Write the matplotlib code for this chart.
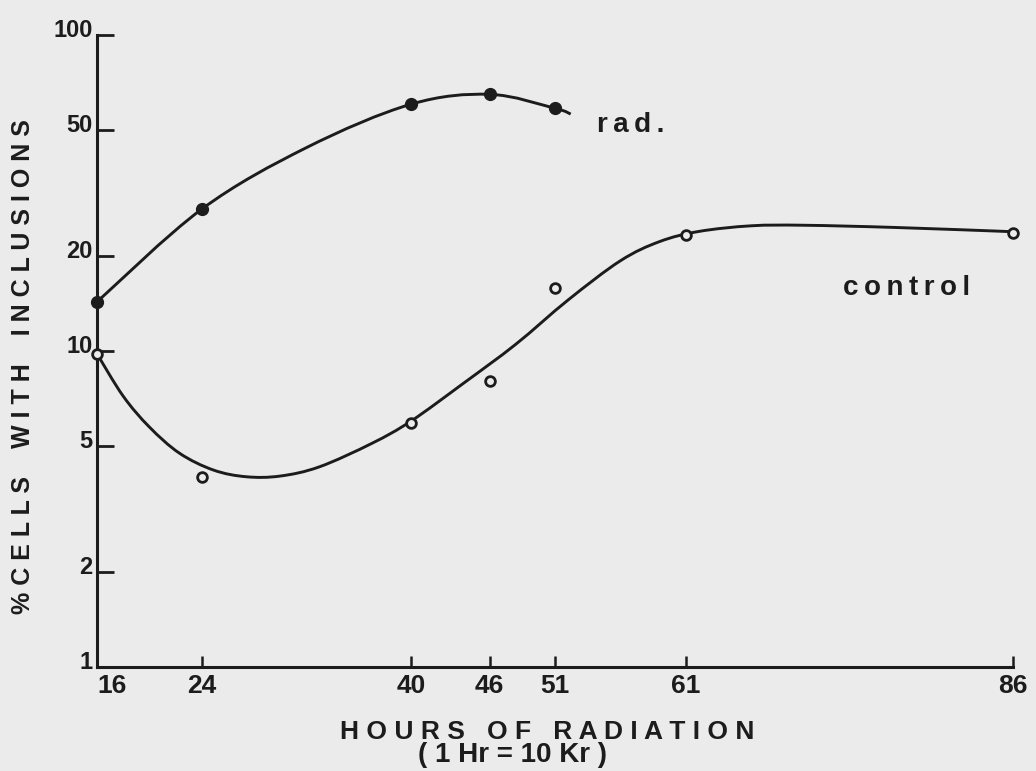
import numpy as np
import matplotlib.pyplot as plt
from matplotlib.path import Path
from matplotlib.patches import PathPatch
from matplotlib.ticker import NullLocator
from matplotlib.transforms import ScaledTranslation

# measured points (hours of radiation, % cells with inclusions)
hours_rad = [16, 24, 40, 46, 51]
pct_rad = [14.3, 28.1, 60.4, 64.9, 58.6]

hours_ctrl = [16, 24, 40, 46, 51, 61, 86]
pct_ctrl = [9.8, 4.0, 5.9, 8.05, 15.8, 23.3, 23.7]

# hand drawn curves
rad_curve_h = [16, 24, 32, 40, 46, 51, 52.2]
rad_curve_v = [14.3, 28.1, 44.0, 60.4, 64.9, 58.6, 56.2]

ctrl_curve_h = [16, 18, 20, 22.3, 24.9, 27.4, 30, 33, 37, 40, 44, 48, 52, 56, 59, 62,
                66, 70, 77, 86]
ctrl_curve_v = [9.8, 7.2, 5.75, 4.75, 4.2, 4.0, 4.02, 4.3, 5.1, 6.0, 7.9, 10.5, 14.5,
                19.3, 22.2, 23.9, 24.9, 25.0, 24.6, 23.85]

x_ticks = [16, 24, 40, 46, 51, 61, 86]
y_ticks = [1, 2, 5, 10, 20, 50, 100]

bg = '#ebebeb'
ink = '#1c1c1c'
plt.rcParams['font.family'] = ['Liberation Sans', 'DejaVu Sans']
plt.rcParams['font.weight'] = 'bold'
plt.rcParams['text.color'] = ink


def smooth_path(h, v):
    # Bezier segments through the read points (log space for y, like the axis)
    x = np.asarray(h, float)
    y = np.log10(np.asarray(v, float))
    verts = [(x[0], y[0])]
    codes = [Path.MOVETO]
    n = len(x)
    for i in range(n - 1):
        p0 = np.array([x[max(i - 1, 0)], y[max(i - 1, 0)]])
        p1 = np.array([x[i], y[i]])
        p2 = np.array([x[i + 1], y[i + 1]])
        p3 = np.array([x[min(i + 2, n - 1)], y[min(i + 2, n - 1)]])
        c1 = p1 + (p2 - p0) / 6
        c2 = p2 - (p3 - p1) / 6
        verts += [tuple(c1), tuple(c2), tuple(p2)]
        codes += [Path.CURVE4] * 3
    verts = [(a, 10 ** b) for a, b in verts]
    return Path(verts, codes)


fig = plt.figure(figsize=(10.36, 7.71), dpi=100, facecolor=bg)
ax = fig.add_axes([0.0936, 0.1349, 0.8842, 0.8197])
ax.set_facecolor(bg)
ax.set_yscale('log')
ax.set_xlim(16, 86)
ax.set_ylim(1, 100)

for s in ['top', 'right']:
    ax.spines[s].set_visible(False)
for s in ['left', 'bottom']:
    ax.spines[s].set_linewidth(2.2)
    ax.spines[s].set_color(ink)

ax.set_xticks(x_ticks)
ax.set_xticklabels([str(h) for h in x_ticks])
ax.set_yticks(y_ticks)
ax.set_yticklabels([str(v) for v in y_ticks])
ax.yaxis.set_minor_locator(NullLocator())
ax.tick_params(axis='y', direction='in', length=12, width=2, pad=3, labelsize=17,
               colors=ink)
ax.tick_params(axis='x', direction='in', length=8, width=1.8, pad=5, labelsize=19,
               colors=ink)

# y labels sit a little above their ticks
for lab in ax.get_yticklabels():
    lab.set_transform(lab.get_transform() + ScaledTranslation(0, 0.07, fig.dpi_scale_trans))
ax.get_xticklabels()[0].set_ha('left')

# curves and points
for hh, vv in [(rad_curve_h, rad_curve_v), (ctrl_curve_h, ctrl_curve_v)]:
    ax.add_patch(PathPatch(smooth_path(hh, vv), facecolor='none', edgecolor=ink,
                           lw=2.1, clip_on=False))
ax.plot(hours_rad, pct_rad, 'o', ms=8.5, color=ink, clip_on=False, zorder=3)
ax.plot(hours_ctrl, pct_ctrl, 'o', ms=7, mfc=bg, mec=ink, mew=2, clip_on=False, zorder=3)

ts = '\u2009'
ax.text(54.2, 52, ts.join('rad.'), fontsize=20, ha='left', va='center')
ax.text(73, 15.8, ts.join('control'), fontsize=20, ha='left', va='center')

fig.text(0.528, 0.0506, 'H O U R S   O F   R A D I A T I O N', fontsize=19,
         ha='center', va='center')
fig.text(0.495, 0.0208, '( 1 Hr = 10 Kr )', fontsize=20, ha='center', va='center')
fig.text(0.0222, 0.524, '% C E L L S    W I T H    I N C L U S I O N S', fontsize=18,
         rotation=90, ha='center', va='center')

fig.savefig('out.png', dpi=100, facecolor=bg)
